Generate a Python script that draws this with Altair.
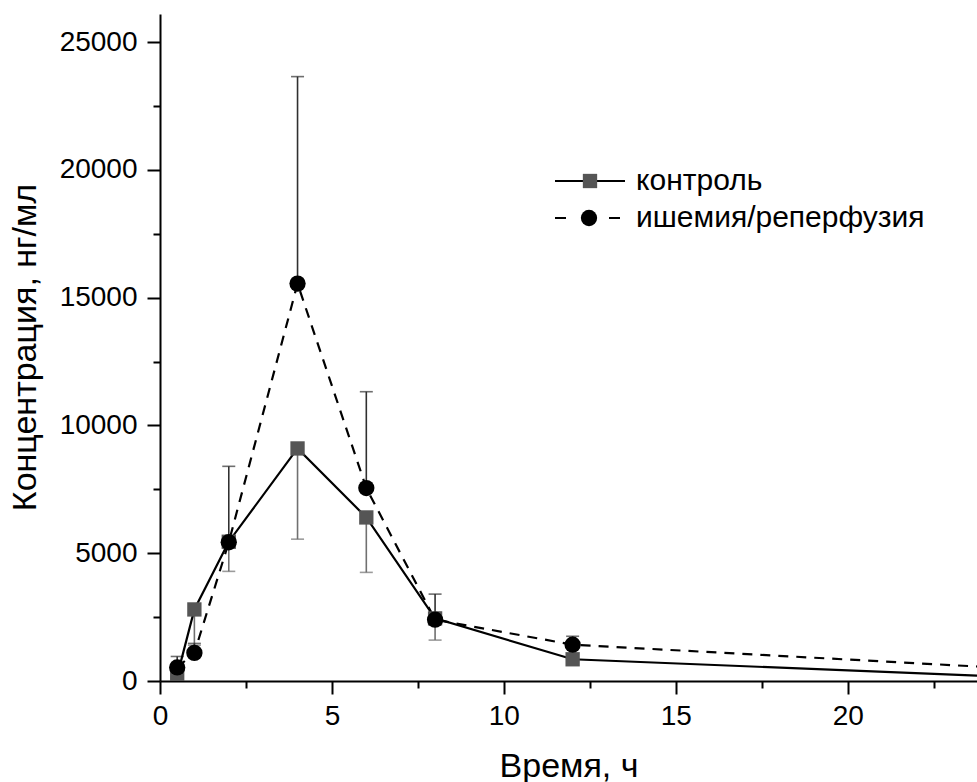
import altair as alt
import pandas as pd

# ---- data ----
times = [0.5, 1, 2, 4, 6, 8, 12, 24]
control = [200, 2800, 5450, 9100, 6400, 2450, 850, 200]
control_err = [120, 1400, 1160, 3550, 2150, 850, 100, 80]
ischemia = [530, 1100, 5430, 15550, 7550, 2400, 1420, 550]
ischemia_err = [430, 370, 2970, 8100, 3770, 1000, 330, 100]
series_names = ["контроль", "ишемия/реперфузия"]
x_ticks = [0, 2.5, 5, 7.5, 10, 12.5, 15, 17.5, 20, 22.5]
y_ticks = [0, 2500, 5000, 7500, 10000, 12500, 15000, 17500, 20000, 22500, 25000]
x_title = "Время, ч"
y_title = "Концентрация, нг/мл"

df = pd.DataFrame({
    "t": times,
    "c": control,
    "c_lo": [v - e for v, e in zip(control, control_err)],
    "i": ischemia,
    "i_hi": [v + e for v, e in zip(ischemia, ischemia_err)],
})

FONT = "Liberation Sans"

xscale = alt.Scale(domain=[0, 23.76], nice=False, zero=False)
yscale = alt.Scale(domain=[0, 26100], nice=False, zero=False)

xaxis = alt.Axis(
    title=x_title, values=x_ticks, format="d",
    labelExpr="datum.value % 5 === 0 ? datum.label : ''",
    tickSize={"condition": {"test": "datum.value % 5 === 0", "value": 13}, "value": 7},
    tickWidth=2, tickColor="black", domainWidth=2, domainColor="black",
    labelFont=FONT, labelFontSize=28, labelColor="black", labelPadding=8,
    labelOverlap=False, labelFlush=False, grid=False,
    titleFont=FONT, titleFontSize=34, titleFontWeight="normal", titleColor="black",
    titleBaseline="alphabetic", titleY=95,
)
yaxis = alt.Axis(
    title=y_title, values=y_ticks, format="d",
    labelExpr="datum.value % 5000 === 0 ? datum.label : ''",
    tickSize={"condition": {"test": "datum.value % 5000 === 0", "value": 13}, "value": 7},
    tickWidth=2, tickColor="black", domainWidth=2, domainColor="black",
    labelFont=FONT, labelFontSize=28, labelColor="black", labelPadding=10,
    labelOverlap=False, labelFlush=False, grid=False,
    titleFont=FONT, titleFontSize=34, titleFontWeight="normal", titleColor="black",
    titleBaseline="middle", titleAlign="center", titleAngle=270,
    titleX=-135, titleY=333,
)

def X():
    return alt.X("t:Q", scale=xscale, axis=xaxis)

def Y(field):
    return alt.Y(f"{field}:Q", scale=yscale, axis=yaxis)

base = alt.Chart(df)

# error bars
c_err = base.mark_rule(color="#707070", strokeWidth=1.6, clip=True).encode(
    x=X(), y=Y("c"), y2="c_lo:Q")
c_cap = base.mark_tick(color="#707070", thickness=1.6, size=13, orient="horizontal", clip=True).encode(
    x=X(), y=Y("c_lo"))
i_err = base.mark_rule(color="#303030", strokeWidth=1.6, clip=True).encode(
    x=X(), y=Y("i"), y2="i_hi:Q")
i_cap = base.mark_tick(color="#303030", thickness=1.6, size=13, orient="horizontal", clip=True).encode(
    x=X(), y=Y("i_hi"))

# lines
c_line = base.mark_line(color="black", strokeWidth=2.2, clip=True).encode(x=X(), y=Y("c"))
i_line = base.mark_line(color="black", strokeWidth=2.2, strokeDash=[10, 8], clip=True).encode(x=X(), y=Y("i"))

# markers
c_pts = base.mark_point(shape="square", filled=True, size=205, color="#555555", opacity=1, clip=True).encode(
    x=X(), y=Y("c"))
i_pts = base.mark_circle(size=266, color="black", opacity=1, clip=True).encode(
    x=X(), y=Y("i"))

# manual legend (positions are in plot-area pixels: origin at left=160, top=14)
one = alt.Data(values=[{"k": 0}])
leg_line1 = alt.Chart(one).mark_rule(color="black", strokeWidth=2.2).encode(
    x=alt.value(395), x2=alt.value(465), y=alt.value(167))
leg_pt1 = alt.Chart(one).mark_point(shape="square", filled=True, size=205, color="#555555", opacity=1).encode(
    x=alt.value(430), y=alt.value(167))
leg_line2 = alt.Chart(one).mark_rule(color="black", strokeWidth=2.2, strokeDash=[11, 43]).encode(
    x=alt.value(395), x2=alt.value(461), y=alt.value(204))
leg_pt2 = alt.Chart(one).mark_circle(size=266, color="black", opacity=1).encode(
    x=alt.value(429), y=alt.value(204))
leg_txt1 = alt.Chart(one).mark_text(align="left", baseline="middle", font=FONT, fontSize=30, color="black").encode(
    x=alt.value(476), y=alt.value(167), text=alt.value(series_names[0]))
leg_txt2 = alt.Chart(one).mark_text(align="left", baseline="middle", font=FONT, fontSize=30, color="black").encode(
    x=alt.value(476), y=alt.value(204), text=alt.value(series_names[1]))

chart = alt.layer(
    c_err, c_cap, i_err, i_cap, c_line, i_line, c_pts, i_pts,
    leg_line1, leg_pt1, leg_line2, leg_pt2, leg_txt1, leg_txt2,
).properties(
    width=817, height=667,
    autosize=alt.AutoSizeParams(type="none"),
    padding={"left": 160, "top": 14, "right": 0, "bottom": 101},
    background="white",
).configure_view(stroke=None)

chart.save("out.html", embed_options={"renderer": "svg", "actions": False})
